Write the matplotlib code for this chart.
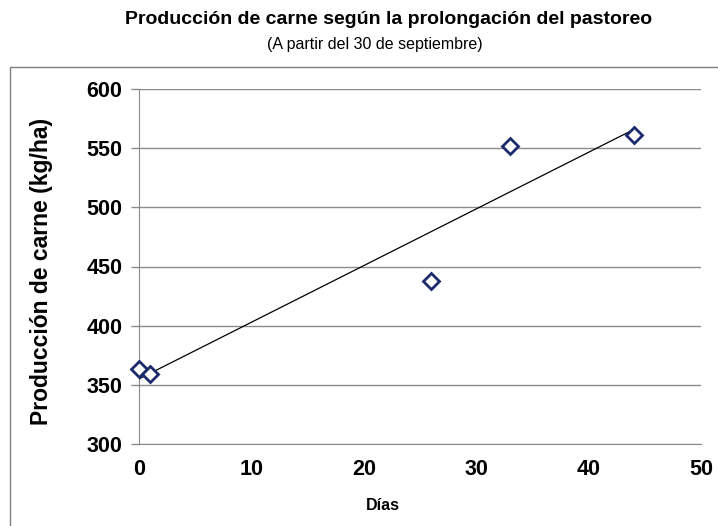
import matplotlib
matplotlib.use("Agg")
import matplotlib.pyplot as plt
from matplotlib.patches import Rectangle
import numpy as np

# datos
dias = [0, 1, 26, 33, 44]
produccion = [363, 359, 438, 552, 561]
y_ticks = [300, 350, 400, 450, 500, 550, 600]
x_ticks = [0, 10, 20, 30, 40, 50]

plt.rcParams["font.family"] = ["Liberation Sans", "DejaVu Sans"]

fig = plt.figure(figsize=(7.18, 5.26), dpi=100)
fig.patch.set_facecolor("white")

# marco del area del grafico
fig.patches.append(Rectangle((10 / 718, -0.05), 1.0, 1 - 67 / 526 + 0.05,
                             transform=fig.transFigure, fill=False,
                             edgecolor="#7f7f7f", linewidth=1.0))

ax = fig.add_axes([139 / 718, 1 - 444 / 526, 562 / 718, 355 / 526])

# linea de tendencia (regresion lineal)
pend, orden = np.polyfit(dias, produccion, 1)
xs = np.array([min(dias), max(dias)])
ax.plot(xs, pend * xs + orden, color="black", linewidth=0.9, zorder=3)

ax.plot(dias, produccion, linestyle="none", marker="D", markersize=8.5,
        markerfacecolor="white", markeredgecolor="#1c2a6e",
        markeredgewidth=2.0, zorder=4, clip_on=False)

ax.set_xlim(0, 50)
ax.set_ylim(300, 600)
ax.set_xticks(x_ticks)
ax.set_yticks(y_ticks)
ax.yaxis.grid(True, color="#8c8c8c", linewidth=1.0)
ax.set_axisbelow(True)

for s in ["top", "right"]:
    ax.spines[s].set_visible(False)
ax.spines["left"].set_color("#8c8c8c")
ax.spines["bottom"].set_color("#8c8c8c")
ax.tick_params(axis="y", length=6, color="#8c8c8c", width=1.0, pad=6)
ax.tick_params(axis="x", length=0, pad=11)
for lbl in ax.get_xticklabels() + ax.get_yticklabels():
    lbl.set_fontsize(15.5)
    lbl.set_fontweight("bold")

fig.text(42 / 718, 1 - 271 / 526, "Producción de carne (kg/ha)", rotation=90,
         ha="center", va="center", fontsize=16.5, fontweight="bold")
fig.text(383 / 718, 1 - 505 / 526, "Días", ha="center", va="center",
         fontsize=11.5, fontweight="bold")

fig.text(389 / 718, 1 - 20 / 526,
         "Producción de carne según la prolongación del pastoreo",
         ha="center", va="center", fontsize=14, fontweight="bold")
fig.text(375 / 718, 1 - 45 / 526, "(A partir del 30 de septiembre)",
         ha="center", va="center", fontsize=11.5)

fig.savefig("out.png", dpi=100)
